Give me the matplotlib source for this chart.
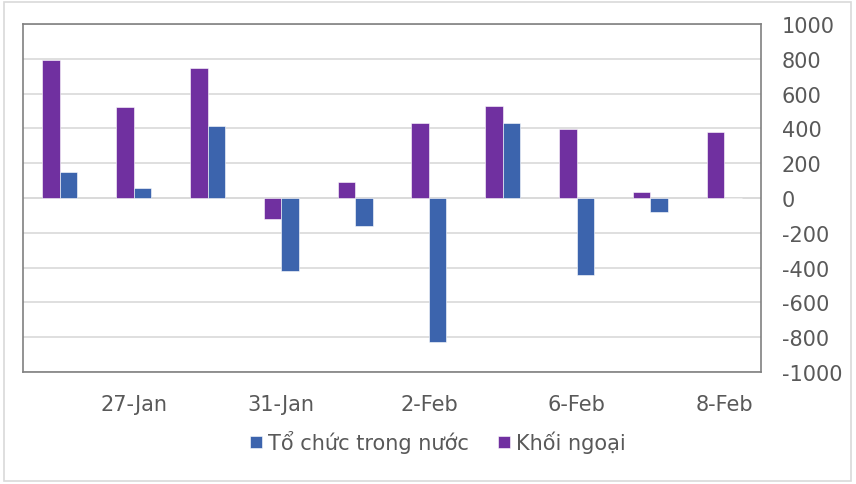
import matplotlib
matplotlib.use("Agg")
import matplotlib.pyplot as plt
import numpy as np
from matplotlib.patches import Rectangle

categories = ["19-Jan", "27-Jan", "30-Jan", "31-Jan", "1-Feb", "2-Feb", "3-Feb", "6-Feb", "7-Feb", "8-Feb"]
khoi_ngoai = [795, 522, 746, -118, 93, 432, 530, 394, 36, 382]
to_chuc = [152, 60, 415, -418, -162, -830, 432, -440, -80, 0]
yticks = [-1000, -800, -600, -400, -200, 0, 200, 400, 600, 800, 1000]

purple = "#7030A0"
blue = "#3C64AD"
text_color = "#595959"

plt.rcParams['font.family'] = ['DejaVu Sans']
plt.rcParams['axes.unicode_minus'] = False

fig = plt.figure(figsize=(8.56, 4.85), dpi=100)
fig.patches.append(Rectangle((4/856, 3/485), 847/856, 479/485, transform=fig.transFigure,
                             fill=False, edgecolor="#D9D9D9", linewidth=1.2))
ax = fig.add_axes([23/856, 112/485, 738/856, 348/485])

x = np.arange(len(categories))
w = 0.237
ax.bar(x - w/2, khoi_ngoai, width=w, color=purple, edgecolor="white", linewidth=0.4, zorder=3, label="Khối ngoại")
ax.bar(x + w/2, to_chuc, width=w, color=blue, edgecolor="white", linewidth=0.4, zorder=3, label="Tổ chức trong nước")

ax.set_xlim(-0.5, len(categories) - 0.5)
ax.set_ylim(-1000, 1000)
ax.set_yticks(yticks)
ax.yaxis.tick_right()
ax.tick_params(axis='y', length=0, pad=15, labelsize=15, labelcolor=text_color)
for lab in ax.get_yticklabels():
    lab.set_horizontalalignment('left')
ax.grid(axis='y', color="#D9D9D9", linewidth=1.2, zorder=0)
ax.axhline(0, color="#D9D9D9", linewidth=1.2, zorder=1)

label_idx = [1, 3, 5, 7, 9]
ax.set_xticks(label_idx)
ax.set_xticklabels([categories[i] for i in label_idx])
ax.tick_params(axis='x', length=0, pad=16, labelsize=15, labelcolor=text_color)

for s in ax.spines.values():
    s.set_color("#808080")
    s.set_linewidth(1.2)

handles, labels = ax.get_legend_handles_labels()
leg = fig.legend(handles[::-1], labels[::-1], loc='center', bbox_to_anchor=(438/856, 1 - 443/485),
                 ncol=2, frameon=False, fontsize=15, handlelength=0.55, handleheight=0.55,
                 handletextpad=0.3, columnspacing=1.4, labelcolor=text_color)

fig.savefig("out.png", dpi=100)
